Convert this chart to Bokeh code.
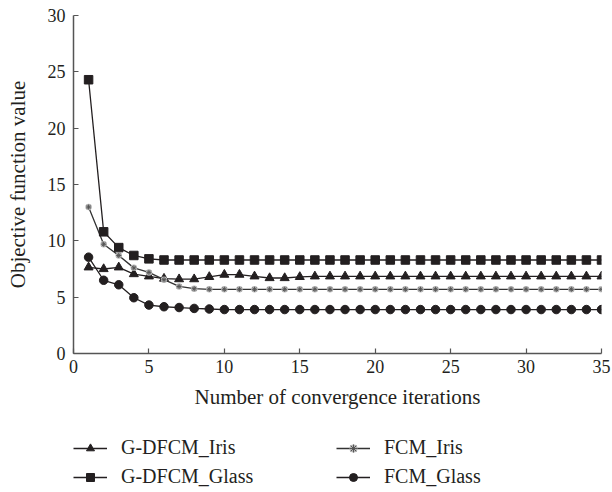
from bokeh.plotting import figure
from bokeh.layouts import column
from bokeh.models import Range1d, FixedTicker, Legend, LegendItem
from bokeh.embed import file_html
from bokeh.resources import INLINE

# Iterations 1..35
iterations = list(range(1, 36))

gdfcm_iris = [7.65, 7.5, 7.65, 7.05, 6.85, 6.65, 6.6, 6.6, 6.8, 7.0, 7.0, 6.85, 6.7, 6.7, 6.8] + [6.85] * 20
fcm_iris = [13.0, 9.7, 8.7, 7.6, 7.2, 6.55, 5.95, 5.75, 5.7] + [5.7] * 26
gdfcm_glass = [24.3, 10.8, 9.4, 8.7, 8.4, 8.3] + [8.3] * 29
fcm_glass = [8.55, 6.5, 6.1, 4.95, 4.3, 4.15, 4.08, 4.0, 3.95] + [3.9] * 26

x_ticks = [0, 5, 10, 15, 20, 25, 30, 35]
y_ticks = [0, 5, 10, 15, 20, 25, 30]

FONT = "Liberation Serif"
INK = "#231f20"
AXIS = "#555555"
LW = 1.3

W = 612
TOP_H = 420
LEG_H = 492 - TOP_H

p = figure(width=W, height=TOP_H, output_backend="svg", toolbar_location=None,
           x_range=Range1d(0, 35), y_range=Range1d(0, 30),
           min_border_left=73, min_border_right=11, min_border_top=15,
           min_border_bottom=TOP_H - 353)
p.outline_line_color = None
p.grid.visible = False

for ax in (p.xaxis[0], p.yaxis[0]):
    ax.axis_line_color = AXIS
    ax.axis_line_width = 1.5
    ax.major_tick_line_color = AXIS
    ax.major_tick_line_width = 1.2
    ax.major_tick_in = 5
    ax.major_tick_out = 0
    ax.minor_tick_line_color = None
    ax.major_label_text_font = FONT
    ax.major_label_text_font_size = "18px"
    ax.major_label_text_color = INK
    ax.axis_label_text_font = FONT
    ax.axis_label_text_font_size = "21px"
    ax.axis_label_text_font_style = "normal"
    ax.axis_label_text_color = INK

p.xaxis.ticker = FixedTicker(ticks=x_ticks)
p.yaxis.ticker = FixedTicker(ticks=y_ticks)
p.xaxis.axis_label = "Number of convergence iterations"
p.yaxis.axis_label = "Objective function value"
p.xaxis.major_label_standoff = 6
p.yaxis.major_label_standoff = 8
p.xaxis.axis_label_standoff = 9
p.yaxis.axis_label_standoff = 15


def draw_series(fig, xs, ys, style):
    """Draw one series as a connecting line plus its markers; returns the renderers."""
    rs = [fig.line(xs, ys, line_color=style["line"], line_width=LW)]
    for m in style["markers"]:
        rs.append(fig.scatter(xs, ys, **m))
    return rs


styles = {
    "G-DFCM_Iris": dict(line=INK, markers=[
        dict(marker="triangle", size=9, fill_color=INK, line_color=INK)]),
    "FCM_Iris": dict(line="#333333", markers=[
        dict(marker="circle", size=6.5, fill_color="#b5b5b5", line_color=None),
        dict(marker="asterisk", size=5, line_color="#555555", line_width=1)]),
    "G-DFCM_Glass": dict(line=INK, markers=[
        dict(marker="square", size=8.5, fill_color=INK, line_color=INK)]),
    "FCM_Glass": dict(line=INK, markers=[
        dict(marker="circle", size=8.5, fill_color=INK, line_color=INK)]),
}

series = {
    "G-DFCM_Iris": gdfcm_iris,
    "FCM_Iris": fcm_iris,
    "G-DFCM_Glass": gdfcm_glass,
    "FCM_Glass": fcm_glass,
}

for name, ys in series.items():
    draw_series(p, iterations, ys, styles[name])

# Legend strip under the chart. Its ranges sit away from the data, so the
# proxy renderers only lend their styles to the legend glyphs.
leg = figure(width=W, height=LEG_H, output_backend="svg", toolbar_location=None,
             x_range=Range1d(100, 101), y_range=Range1d(100, 101),
             x_axis_location=None, y_axis_location=None,
             min_border=0, min_border_left=0, min_border_right=0,
             min_border_top=0, min_border_bottom=0)
leg.grid.visible = False
leg.outline_line_color = None

legend_renderers = {name: draw_series(leg, iterations, ys, styles[name])
                    for name, ys in series.items()}


def make_legend(names, x, y):
    return Legend(
        items=[LegendItem(label=n, renderers=legend_renderers[n]) for n in names],
        location=(x, y), orientation="vertical",
        label_text_font=FONT, label_text_font_size="20px", label_text_color=INK,
        glyph_width=34, glyph_height=20, label_height=20, label_standoff=14,
        spacing=6, padding=0, margin=0,
        border_line_color=None, background_fill_alpha=0)


# legend offsets are measured from the left edge of the aligned plot frame
leg.add_layout(make_legend(["G-DFCM_Iris", "G-DFCM_Glass"], 0, 4), "center")
leg.add_layout(make_legend(["FCM_Iris", "FCM_Glass"], 263, 4), "center")

layout = column(p, leg, spacing=0)
open("out.html", "w").write(file_html(layout, INLINE))
